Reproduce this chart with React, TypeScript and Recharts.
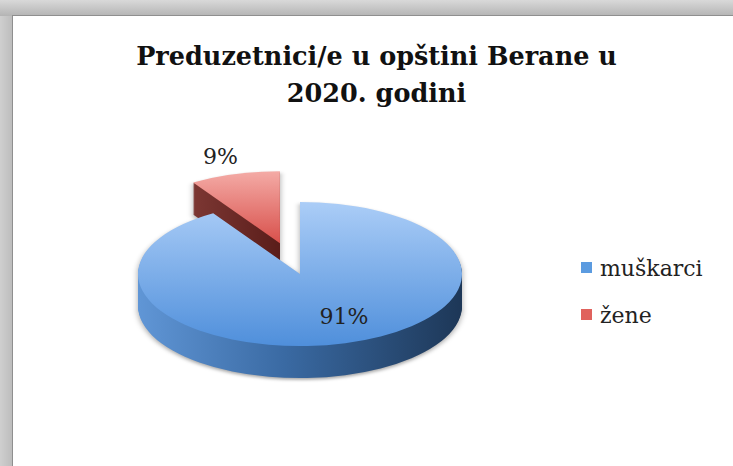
import React from 'react';
import { PieChart, Pie, Cell, Legend } from 'recharts';

const categories = ['muškarci', 'žene'];
const shares = [91, 9];
const data = categories.map((name, i) => ({ name, value: shares[i] }));

const TITLE = ['Preduzetnici/e u opštini Berane u', '2020. godini'];
const EXPLODED = 'žene';

// geometry of the tilted pie, screen px
const CX = 300;
const CY = 274;
const RX = 162;
const RY = 72;
const DEPTH = 32;
const SY = RY / RX;
const EXPLODE = 72;
const RAD = Math.PI / 180;
const START = 90;

const W = 733;
const H = 466;
const PIE_H = Math.ceil(H / SY);

// mid angle of the pulled-out slice (pie runs clockwise from 12 o'clock)
const total = shares.reduce((a, b) => a + b, 0);
const expIdx = categories.indexOf(EXPLODED);
const before = shares.slice(0, expIdx).reduce((a, b) => a + b, 0);
const expMid = START - ((before + shares[expIdx] / 2) / total) * 360;
const EX_DX = EXPLODE * Math.cos(expMid * RAD);
const EX_DY = -EXPLODE * Math.sin(expMid * RAD);

const topFills = ['url(#topBlue)', 'url(#topRed)'];
const sideFills = ['url(#sideBlue)', 'url(#sideRed)'];
const legendColors = ['#5b9be0', '#e0625d'];
const FONT = '"DejaVu Serif", serif';

const levels = Array.from({ length: DEPTH }, (_, i) => DEPTH - i);

function renderLabel(props: any) {
  const { cx, cy, midAngle, outerRadius, percent, name } = props;
  const isExp = name === EXPLODED;
  const r = (isExp ? EXPLODE : 0) + (isExp ? 1.25 : 0.62) * outerRadius;
  const x = cx + r * Math.cos(midAngle * RAD) + (isExp ? -3 : 16);
  const y = cy - r * Math.sin(midAngle * RAD) * SY;
  return (
    <text x={x} y={y} textAnchor="middle" dominantBaseline="central"
      fontFamily={FONT} fontSize={22} fill="#222">
      {`${Math.round(percent * 100)}%`}
    </text>
  );
}

function renderLegend(props: any) {
  const { payload } = props;
  return (
    <div style={{ fontFamily: FONT, fontSize: 22, color: '#222' }}>
      {payload.map((p: any, i: number) => (
        <div key={i} style={{ display: 'flex', alignItems: 'center', height: 47 }}>
          <span style={{ width: 11, height: 11, marginRight: 8, marginTop: -3,
            background: legendColors[categories.indexOf(p.value)] }} />
          <span>{p.value}</span>
        </div>
      ))}
    </div>
  );
}

// one layer of the pie: main body and the pulled-out slice drawn as two pies
function layer(key: string, cyScreen: number, fills: string[]) {
  const common = {
    data, dataKey: 'value', nameKey: 'name', outerRadius: RX,
    startAngle: START, endAngle: START - 360, stroke: 'none',
    isAnimationActive: false, legendType: 'none' as const,
  };
  return [
    <Pie key={key + 'm'} {...common} cx={CX} cy={cyScreen / SY}>
      {data.map((d, i) => <Cell key={d.name} fill={i === expIdx ? 'none' : fills[i]} />)}
    </Pie>,
    <Pie key={key + 'e'} {...common} cx={CX + EX_DX} cy={(cyScreen + EX_DY * SY) / SY}>
      {data.map((d, i) => <Cell key={d.name} fill={i === expIdx ? fills[i] : 'none'} />)}
    </Pie>,
  ];
}

export default function App() {
  return (
    <div style={{ position: 'absolute', left: 0, top: 0, width: W, height: H, overflow: 'hidden',
      background: 'linear-gradient(90deg, #cfcfcf 0px, #bdbdbd 12px)' }}>
      <div style={{ position: 'absolute', left: 0, top: 0, width: W, height: 16,
        background: 'linear-gradient(#d9d9d9, #b4b4b4)' }} />
      <div style={{ position: 'absolute', left: 12, top: 15, width: W, height: H,
        background: '#fff', borderLeft: '1px solid #8f8f8f', borderTop: '1px solid #8f8f8f' }} />

      <div style={{ position: 'absolute', left: 0, top: 38, width: 753, textAlign: 'center',
        fontFamily: FONT, fontWeight: 'bold', fontSize: 25.5, lineHeight: '37px', color: '#111' }}>
        {TITLE.map((t, i) => <div key={i}>{t}</div>)}
      </div>

      {/* tilted pie: squashed vertically, side built from stacked copies */}
      <div style={{ position: 'absolute', left: 0, top: 0, width: W, height: PIE_H,
        transform: `scaleY(${SY})`, transformOrigin: '0 0',
        filter: 'drop-shadow(0 4px 3px rgba(0,0,0,0.35))' }}>
        <PieChart width={W} height={PIE_H} margin={{ top: 0, right: 0, bottom: 0, left: 0 }}>
          <defs>
            <linearGradient id="topBlue" x1="0" y1="0" x2="0" y2="1">
              <stop offset="0%" stopColor="#abcdf7" />
              <stop offset="100%" stopColor="#4f8fdb" />
            </linearGradient>
            <linearGradient id="topRed" x1="0" y1="0" x2="0" y2="1">
              <stop offset="0%" stopColor="#f4aba6" />
              <stop offset="100%" stopColor="#d8504b" />
            </linearGradient>
            <linearGradient id="sideBlue" x1="0" y1="0" x2="1" y2="0">
              <stop offset="0%" stopColor="#6096d6" />
              <stop offset="45%" stopColor="#3a6aa3" />
              <stop offset="100%" stopColor="#1d3757" />
            </linearGradient>
            <linearGradient id="sideRed" x1="0" y1="0" x2="1" y2="0">
              <stop offset="0%" stopColor="#7c3733" />
              <stop offset="100%" stopColor="#5a1d1a" />
            </linearGradient>
          </defs>
          {levels.map((k) => layer('s' + k, CY + k, sideFills))}
          {layer('top', CY, topFills)}
        </PieChart>
      </div>

      {/* unsquashed layer for labels and legend */}
      <div style={{ position: 'absolute', left: 0, top: 0 }}>
        <PieChart width={W} height={H} margin={{ top: 0, right: 0, bottom: 0, left: 0 }}>
          <Pie data={data} dataKey="value" nameKey="name" cx={CX} cy={CY}
            outerRadius={RX} startAngle={START} endAngle={START - 360} stroke="none" fillOpacity={0}
            label={renderLabel} labelLine={false} isAnimationActive={false}>
            {data.map((d, i) => <Cell key={d.name} fill={legendColors[i]} />)}
          </Pie>
          <Legend layout="vertical" align="right" verticalAlign="top" content={renderLegend}
            wrapperStyle={{ left: 581, top: 245, width: 150 }} />
        </PieChart>
      </div>
    </div>
  );
}
